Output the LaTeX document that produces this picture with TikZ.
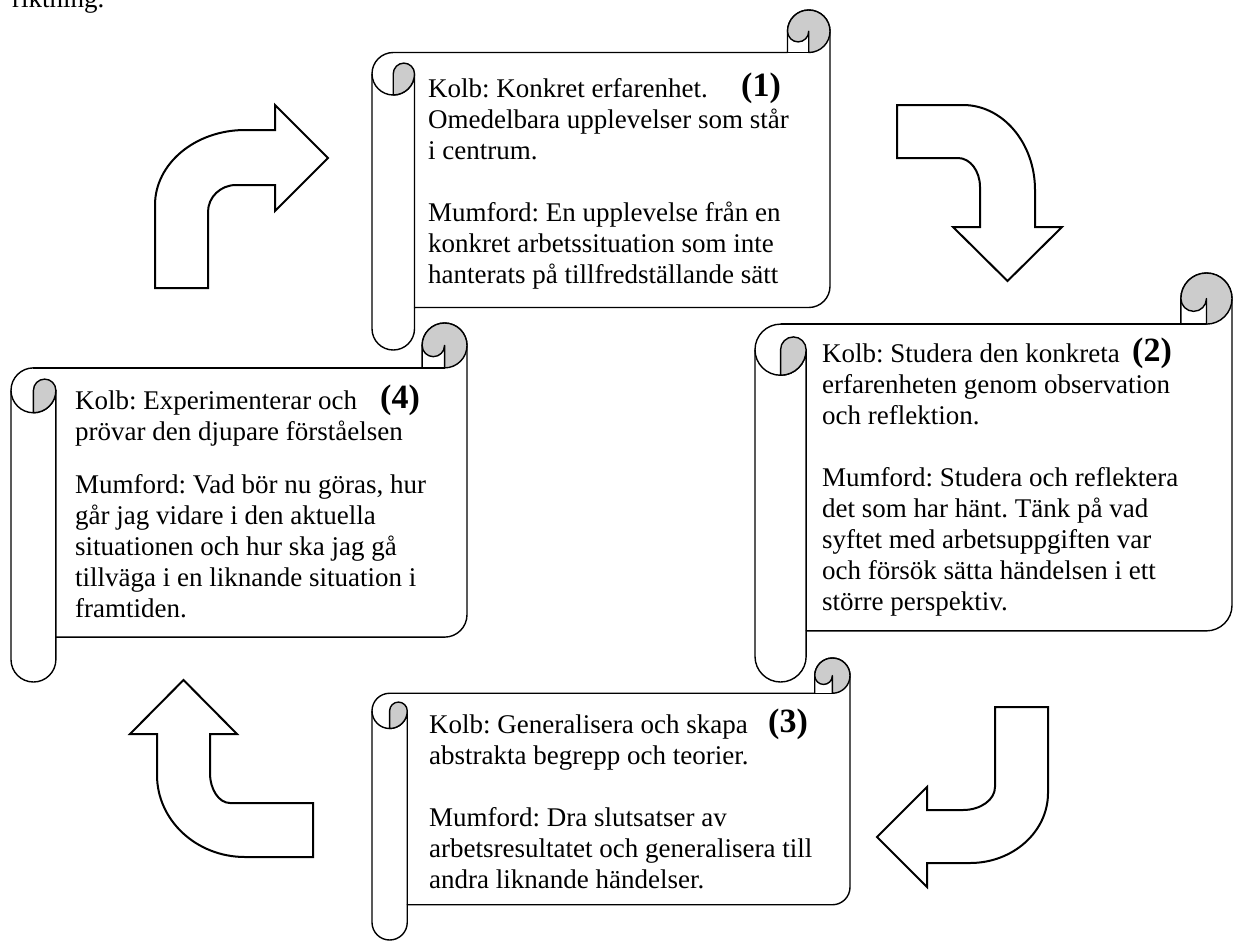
\documentclass[tikz,border=0pt]{standalone}
\usepackage{fontspec}
\setmainfont{Liberation Serif}
\usepackage{xcolor}
\usetikzlibrary{positioning}
\frenchspacing

\definecolor{rullgra}{gray}{0.8}

% scroll: left, top, right, bottom
\newcommand{\rulle}[4]{%
  \pgfmathsetmacro{\rulD}{0.125*min(#3-#1,#4-#2)}%
  \pgfmathsetmacro{\rulR}{\rulD/2}%
  \pgfmathsetmacro{\rulK}{\rulD/4}%
  \draw[rullkant,fill=white] (#1,#2+\rulD+\rulR)
      arc[start angle=180,end angle=270,radius=\rulR]
      -- (#3-\rulD,#2+\rulD) -- (#3-\rulD,#2+\rulR)
      arc[start angle=180,end angle=360,radius=\rulR]
      -- (#3,#4-\rulD-\rulR) arc[start angle=0,end angle=90,radius=\rulR]
      -- (#1+\rulD,#4-\rulD) -- (#1+\rulD,#4-\rulR)
      arc[start angle=0,end angle=180,radius=\rulR] -- cycle;
  \draw[rullkant,fill=rullgra] (#3-\rulD,#2+\rulR)
      arc[start angle=180,end angle=360,radius=\rulR]
      arc[start angle=0,end angle=90,radius=\rulR]
      -- (#3-\rulR,#2+\rulR)
      arc[start angle=0,end angle=180,radius=\rulK] -- cycle;
  \draw[rullkant] (#1+\rulR,#2+\rulD) -- (#3-\rulR,#2+\rulD);
  \draw[rullkant] (#1,#2+\rulD+\rulR)
      arc[start angle=180,end angle=0,radius=\rulR] -- (#1+\rulD,#4-\rulD);
  \draw[rullkant,fill=rullgra] (#1+\rulR,#2+2*\rulD) -- (#1+\rulR,#2+\rulD+\rulR)
      arc[start angle=180,end angle=360,radius=\rulK]
      arc[start angle=0,end angle=90,radius=\rulR] -- cycle;
}

\begin{document}
\begin{tikzpicture}
  [x=1pt,y=-1pt,
   rullkant/.style={line width=1.4pt,line join=round},
   pil/.style={line width=2pt,fill=white,line join=miter},
   tekst/.style={anchor=north west,inner sep=0pt,align=left,
                 font=\fontsize{27}{31}\selectfont},
   nummer/.style={anchor=base west,inner sep=0pt,
                  font=\fontsize{34}{38}\selectfont\bfseries}]
  \path[fill=white,use as bounding box] (0,0) rectangle (1233,940);

  \node[tekst,anchor=base west] (rubrik) at (12,7) {riktning.};

  \foreach \lx/\ty/\rx/\by in {372/10/830/350,755/273/1232/682,
                               372/658/850/940,11/323/467/682}
    \rulle{\lx}{\ty}{\rx}{\by};

  % arrows
  \draw[pil] (155,288) -- (155,205)
    arc[start angle=180,end angle=270,x radius=90,y radius=75]
    -- (275,130) -- (275,105) -- (328,158) -- (275,211) -- (275,185) -- (236,185)
    arc[start angle=270,end angle=180,x radius=28,y radius=27]
    -- (208,288) -- cycle;
  \draw[pil] (897,105) -- (963,105)
    arc[start angle=270,end angle=360,x radius=72,y radius=85]
    -- (1035,227) -- (1062,227) -- (1007.5,281) -- (953,227) -- (980,227) -- (980,187)
    arc[start angle=0,end angle=-90,x radius=22,y radius=29]
    -- (897,158) -- cycle;
  \draw[pil] (995,707) -- (1048,707) -- (1048,793)
    arc[start angle=0,end angle=90,x radius=78,y radius=70]
    -- (927,863) -- (927,887) -- (877,837) -- (927,787) -- (927,810) -- (963,810)
    arc[start angle=90,end angle=0,x radius=32,y radius=23]
    -- cycle;
  \draw[pil] (313,857) -- (245,857)
    arc[start angle=90,end angle=180,x radius=88,y radius=82]
    -- (157,734) -- (130,734) -- (183.5,680) -- (237,734) -- (210,734) -- (210,773)
    arc[start angle=180,end angle=90,x radius=20,y radius=30]
    -- (313,803) -- cycle;

  % texts
  \node[tekst] (k1) at (428,97-21.7) {\strut Kolb: Konkret erfarenhet.\\
    Omedelbara upplevelser som står\\ i centrum.\\[31pt]
    Mumford: En upplevelse från en\\ konkret arbetssituation som inte\\
    hanterats på tillfredställande sätt};
  \node[nummer] (n1) at (741,96) {(1)};

  \node[tekst] (k2) at (822,362-21.7) {\strut Kolb: Studera den konkreta\\
    erfarenheten genom observation\\ och reflektion.\\[31pt]
    Mumford: Studera och reflektera\\ det som har hänt. Tänk på vad\\
    syftet med arbetsuppgiften var\\ och försök sätta händelsen i ett\\
    större perspektiv.};
  \node[nummer] (n2) at (1132,361) {(2)};

  \node[tekst] (k3) at (429,733-21.7) {\strut Kolb: Generalisera och skapa\\
    abstrakta begrepp och teorier.\\[31pt]
    Mumford: Dra slutsatser av\\ arbetsresultatet och generalisera till\\
    andra liknande händelser.};
  \node[nummer] (n3) at (768,732) {(3)};

  \node[tekst] (k4) at (75,409-21.7) {\strut Kolb: Experimenterar och\\
    prövar den djupare förståelsen\\[22pt]
    Mumford: Vad bör nu göras, hur\\ går jag vidare i den aktuella\\
    situationen och hur ska jag gå\\ tillväga i en liknande situation i\\
    framtiden.};
  \node[nummer] (n4) at (380,408) {(4)};
\end{tikzpicture}
\end{document}
